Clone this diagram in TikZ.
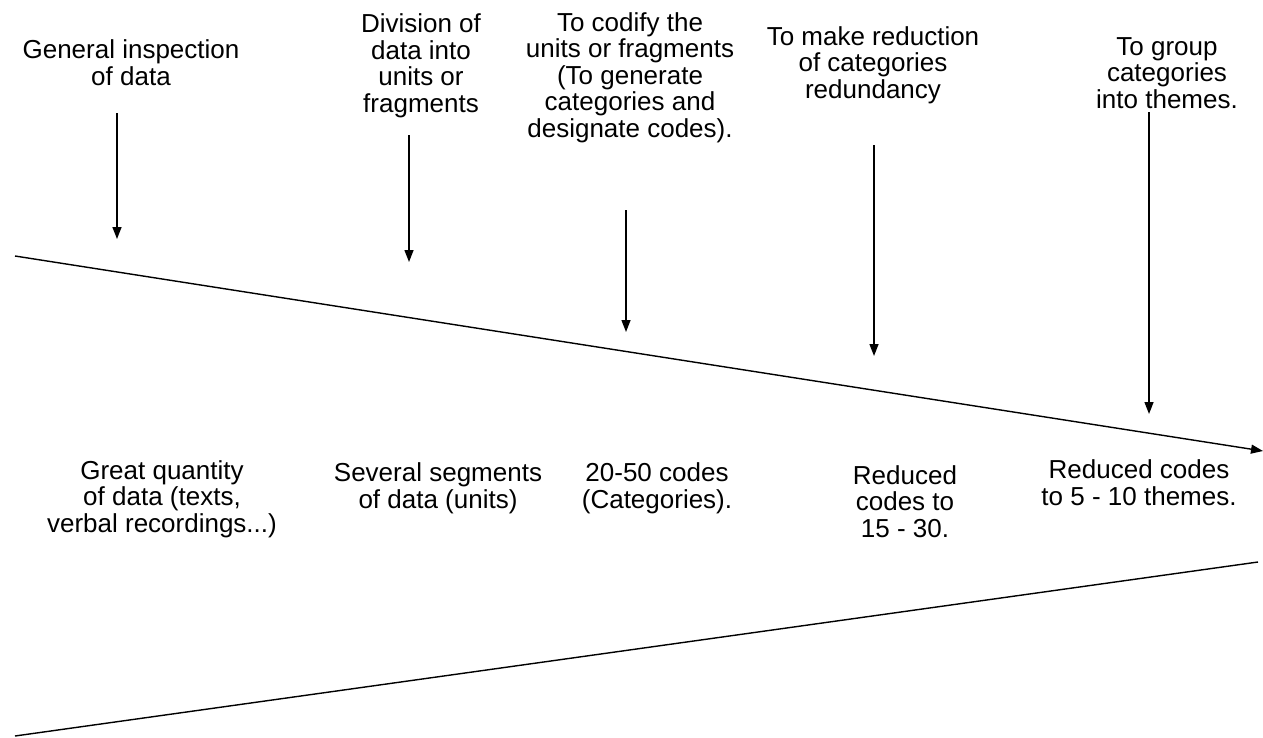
\documentclass[tikz,border=0pt]{standalone}
\usepackage{fontspec}
\setmainfont{Liberation Sans}
\usetikzlibrary{arrows.meta}
\begin{document}
\begin{tikzpicture}[x=0.02cm,y=-0.02cm,
  lbl/.style={align=center,inner sep=0pt,anchor=base,font=\fontsize{14.8}{15}\selectfont},
  conn/.style={line width=0.8pt,-{Triangle[length=2.4mm,width=1.8mm]}},
  edge/.style={line width=0.8pt}]
\useasboundingbox (0,0) rectangle (1263,737);
% top labels (anchor = baseline of last line)
\node[lbl] (t1) at (131,85) {General inspection\\of data};
\node[lbl] (t2) at (421,112) {Division of\\data into\\units or\\fragments};
\node[lbl] (t3) at (630,137) {To codify the\\units or fragments\\(To generate\\categories and\\designate codes).};
\node[lbl] (t4) at (873,98) {To make reduction\\of categories\\redundancy};
\node[lbl] (t5) at (1167,108) {To group\\categories\\into themes.};
% bottom labels
\node[lbl] (b1) at (162,532) {Great quantity\\of data (texts,\\verbal recordings...)};
\node[lbl] (b2) at (438,508) {Several segments\\of data (units)};
\node[lbl] (b3) at (657,508) {20-50 codes\\(Categories).};
\node[lbl] (b4) at (905,537) {Reduced\\codes to\\ 15 - 30.};
\node[lbl] (b5) at (1139,505) {Reduced codes\\to 5 - 10 themes.};
% arrow coordinates
\coordinate (a1s) at (117,113); \coordinate (a1e) at (117,239);
\coordinate (a2s) at (409,135); \coordinate (a2e) at (409,262);
\coordinate (a3s) at (626,210); \coordinate (a3e) at (626,332);
\coordinate (a4s) at (874,145); \coordinate (a4e) at (874,356);
\coordinate (a5s) at (1149,112); \coordinate (a5e) at (1149,414);
\draw[conn] (a1s) -- (a1e);
\draw[conn] (a2s) -- (a2e);
\draw[conn] (a3s) -- (a3e);
\draw[conn] (a4s) -- (a4e);
\draw[conn] (a5s) -- (a5e);
% funnel lines
\coordinate (u1) at (15,256); \coordinate (u2) at (1263,451);
\coordinate (l1) at (15,736); \coordinate (l2) at (1258,562);
\draw[conn] (u1) -- (u2);
\draw[edge] (l1) -- (l2);
\end{tikzpicture}
\end{document}
